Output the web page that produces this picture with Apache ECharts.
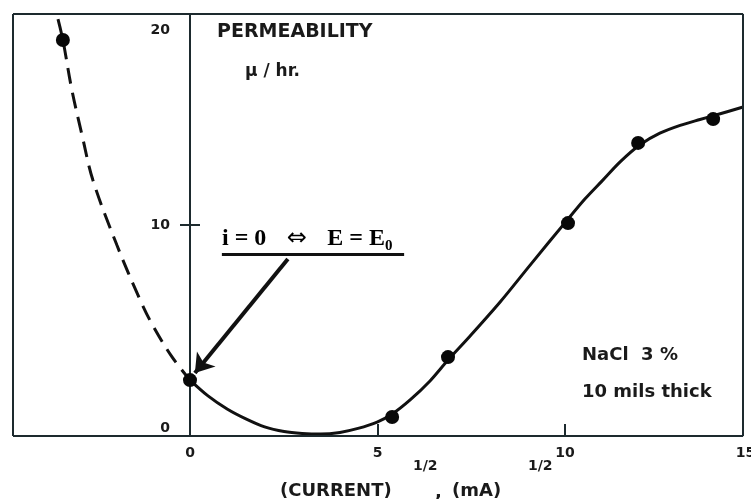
<!DOCTYPE html>
<html><head><meta charset="utf-8">
<script src="https://cdn.jsdelivr.net/npm/echarts@6/dist/echarts.min.js"></script>
<style>html,body{margin:0;padding:0;background:#fff}#c{width:751px;height:499px}</style>
</head><body><div id="c"></div>
<script>
// measured points: sqrt(current) vs permeability
const measuredX = [-3.39, 0, 5.39, 6.88, 10.08, 11.95, 13.95];
const measuredY = [18.77, 2.65, 0.90, 3.74, 10.09, 13.89, 15.02];
// dashed (extrapolated) part of the curve
const dashedCurveX = [-3.52, -3.39, -3.15, -2.88, -2.59, -1.95, -1.33, -0.99, -0.48, 0];
const dashedCurveY = [19.76, 18.77, 16.40, 14.27, 12.13, 9.05, 6.45, 5.23, 3.75, 2.65];
// solid part of the curve (traced)
const solidCurveX = [0, 0.48, 0.99, 1.49, 1.99, 2.51, 2.99, 3.49, 4.0, 4.48, 4.99, 5.39, 5.87, 6.4, 6.88, 7.47, 8.27, 9.07, 10.08, 10.53, 10.99, 11.47, 12.0, 12.53, 13.07, 13.6, 14.0, 14.75];
const solidCurveY = [2.65, 1.90, 1.28, 0.81, 0.43, 0.21, 0.12, 0.09, 0.17, 0.36, 0.66, 1.04, 1.71, 2.61, 3.60, 4.74, 6.35, 8.10, 10.28, 11.23, 12.09, 12.99, 13.80, 14.35, 14.72, 15.0, 15.2, 15.59];
// axes
const xTickLabels = [0, 5, 10, 15];
const xTickMarks = [5, 10];
const yTickLabels = [0, 10, 20];
const yTickMarks = [10];

const zip = (a, b) => a.map((v, i) => [v, b[i]]);
const frameColor = '#1d2a2e';
const ink = '#111';
const sans = '"DejaVu Sans", "Liberation Sans", sans-serif';
const serif = '"Liberation Serif", "DejaVu Serif", serif';

const W = 751, gridL = 13, gridR = -1.5;
const xMin = -4.72, xMax = 15, xFrameR = 14.75;
const pxPerUnit = (W - gridL - gridR) / (xMax - xMin);
const zeroPx = gridL + (0 - xMin) * pxPerUnit;          // pixel of x = 0
const halfTick = 10 / pxPerUnit;

const lbl = {color: '#1a1a1a', fontFamily: sans, fontWeight: 'bold', fontSize: 14};

const chart = echarts.init(document.getElementById('c'), null, {renderer: 'canvas'});
chart.setOption({
  animation: false,
  backgroundColor: '#fff',
  grid: {left: gridL, right: gridR, top: 14, bottom: 63, show: false, containLabel: false, outerBoundsMode: 'none'},
  xAxis: {
    type: 'value', min: xMin, max: xMax,
    splitLine: {show: false},
    axisLine: {show: false, onZero: false},
    axisTick: {show: true, inside: true, length: 12, customValues: xTickMarks, lineStyle: {color: frameColor, width: 2}},
    axisLabel: {
      customValues: xTickLabels, margin: 10, hideOverlap: false,
      formatter: v => v === 15 ? '{e|15}' : '{n|' + v + '}',
      rich: {n: Object.assign({}, lbl), e: Object.assign({padding: [0, 14, 0, 0]}, lbl)}
    }
  },
  yAxis: {
    type: 'value', min: 0, max: 20, position: 'left', offset: -(zeroPx - gridL),
    splitLine: {show: false},
    axisLine: {show: true, onZero: false, lineStyle: {color: frameColor, width: 2}},
    axisTick: {show: true, length: 10, customValues: yTickMarks, lineStyle: {color: frameColor, width: 2}},
    axisLabel: {
      customValues: yTickLabels, margin: 20, hideOverlap: false,
      formatter: v => v === 20 ? '{t|20}' : (v === 0 ? '{b|0}' : '{m|' + v + '}'),
      rich: {
        t: Object.assign({padding: [32, 0, 0, 0]}, lbl),
        b: Object.assign({padding: [0, 0, 16, 0]}, lbl),
        m: Object.assign({}, lbl)
      }
    }
  },
  series: [
    {
      type: 'line', data: zip(dashedCurveX, dashedCurveY), showSymbol: false, smooth: 0.35,
      lineStyle: {color: ink, width: 3, type: [16, 9]}, silent: true, z: 3
    },
    {
      type: 'line', data: zip(solidCurveX, solidCurveY), showSymbol: false, smooth: 0.3,
      lineStyle: {color: ink, width: 3}, silent: true, z: 3
    },
    {
      type: 'scatter', data: zip(measuredX, measuredY), symbolSize: 14,
      itemStyle: {color: '#080808', opacity: 1}, silent: true, z: 5
    },
    {
      type: 'line', data: [], silent: true,
      markLine: {
        silent: true, symbol: ['none', 'none'], label: {show: false}, animation: false,
        lineStyle: {color: frameColor, width: 2, type: 'solid'},
        data: [
          [{coord: [xMin, 0]}, {coord: [xFrameR, 0]}],
          [{coord: [xMin, 20]}, {coord: [xFrameR, 20]}],
          [{coord: [xMin, 0]}, {coord: [xMin, 20]}],
          [{coord: [xFrameR, 0]}, {coord: [xFrameR, 20]}],
          [{coord: [0, yTickMarks[0]]}, {coord: [halfTick, yTickMarks[0]]}],
          [{coord: [0.85, 8.63], lineStyle: {color: ink, width: 3}}, {coord: [5.71, 8.63]}]
        ]
      }
    },
    {
      type: 'line', data: [], silent: true,
      markLine: {
        silent: true, symbol: ['none', 'arrow'], symbolSize: 18, label: {show: false}, animation: false,
        lineStyle: {color: ink, width: 4, type: 'solid'},
        data: [[{coord: [2.61, 8.39]}, {coord: [0.13, 2.99]}]]
      }
    }
  ],
  graphic: [
    {type: 'text', x: 217, y: 32, style: {text: 'PERMEABILITY', fill: '#1a1a1a', font: 'bold 19px ' + sans, align: 'left', verticalAlign: 'middle'}},
    {type: 'text', x: 245, y: 72, style: {text: 'μ / hr.', fill: '#1a1a1a', font: 'bold 17px ' + sans, align: 'left', verticalAlign: 'middle'}},
    {type: 'text', x: 582, y: 355, style: {text: 'NaCl  3 %', fill: '#1a1a1a', font: 'bold 18px ' + sans, align: 'left', verticalAlign: 'middle'}},
    {type: 'text', x: 582, y: 392, style: {text: '10 mils thick', fill: '#1a1a1a', font: 'bold 18px ' + sans, align: 'left', verticalAlign: 'middle'}},
    {type: 'text', x: 280, y: 491, style: {text: '(CURRENT)', fill: '#1a1a1a', font: 'bold 18px ' + sans, align: 'left', verticalAlign: 'middle'}},
    {type: 'text', x: 413, y: 466, style: {text: '1/2', fill: '#1a1a1a', font: 'bold 14px ' + sans, align: 'left', verticalAlign: 'middle'}},
    {type: 'text', x: 435, y: 492, style: {text: ',', fill: '#1a1a1a', font: 'bold 18px ' + sans, align: 'left', verticalAlign: 'middle'}},
    {type: 'text', x: 452, y: 491, style: {text: '(mA)', fill: '#1a1a1a', font: 'bold 18px ' + sans, align: 'left', verticalAlign: 'middle'}},
    {type: 'text', x: 528, y: 466, style: {text: '1/2', fill: '#1a1a1a', font: 'bold 14px ' + sans, align: 'left', verticalAlign: 'middle'}},
    {type: 'text', x: 222, y: 224, style: {
      text: '{m|i = 0}{g|⇔}{m|E = E}{s|0}', align: 'left', verticalAlign: 'top',
      rich: {
        m: {fill: '#000', fontFamily: serif, fontWeight: 'bold', fontSize: 24, lineHeight: 30},
        g: {fill: '#000', fontFamily: '"DejaVu Sans", sans-serif', fontSize: 24, lineHeight: 30, width: 61, align: 'center'},
        s: {fill: '#000', fontFamily: serif, fontWeight: 'bold', fontSize: 15, lineHeight: 15, verticalAlign: 'bottom'}
      }
    }}
  ]
});
</script></body></html>
